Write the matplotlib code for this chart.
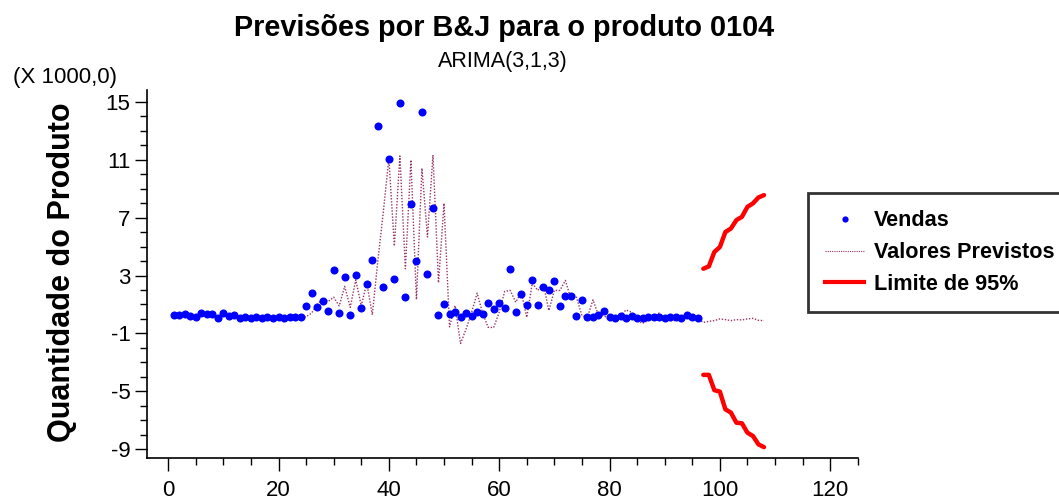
import numpy as np
import matplotlib
matplotlib.use('Agg')
import matplotlib.pyplot as plt
import matplotlib.lines as mlines
from matplotlib.ticker import MultipleLocator

plt.rcParams['font.family'] = ['Liberation Sans', 'DejaVu Sans']
plt.rcParams['axes.unicode_minus'] = False

# vendas mensais (em milhares)
vendas = [0.28, 0.28, 0.35, 0.18, 0.11, 0.42, 0.35, 0.35, 0.04, 0.42,
          0.18, 0.28, 0.04, 0.11, 0.04, 0.11, 0.04, 0.11, 0.04, 0.11,
          0.04, 0.11, 0.11, 0.11, 0.88, 1.81, 0.81, 1.27, 0.58, 3.35,
          0.42, 2.89, 0.28, 3.06, 0.74, 2.43, 4.05, 13.35, 2.20, 11.04,
          2.73, 14.90, 1.50, 7.94, 3.98, 14.28, 3.13, 7.70, 0.28, 1.04,
          0.35, 0.50, 0.11, 0.42, 0.18, 0.49, 0.35, 1.11, 0.71, 1.11,
          0.74, 3.42, 0.51, 1.74, 0.97, 2.66, 0.97, 2.20, 1.97, 2.59,
          0.88, 1.57, 1.57, 0.18, 1.34, 0.11, 0.11, 0.28, 0.58, 0.11,
          0.04, 0.18, 0.04, 0.18, 0.04, 0.04, 0.11, 0.11, 0.11, 0.04,
          0.11, 0.11, 0.04, 0.28, 0.11, 0.04]

# valores previstos pelo ARIMA(3,1,3)
previstos = [0.25, 0.25, 0.25, 0.25, 0.20, 0.20, 0.25, 0.30, 0.20, 0.25,
             0.20, 0.25, 0.15, 0.15, 0.10, 0.12, 0.10, 0.10, 0.10, 0.10,
             0.10, 0.10, 0.10, 0.10, 0.15, 0.40, 1.00, 1.40, 1.20, 1.50,
             0.90, 2.25, 0.80, 2.70, 0.90, 2.50, 0.28, 4.00, 7.40, 11.10,
             5.04, 11.27, 3.47, 10.99, 1.34, 10.42, 5.67, 11.34, 2.50, 7.99,
             -0.55, 0.92, -1.70, -0.70, 0.45, 1.78, 0.40, -0.58, -0.60, 0.46,
             1.90, 1.97, 1.15, 1.85, 0.11, 2.47, 1.97, 2.43, 0.58, 1.97,
             1.97, 2.66, 1.39, 1.50, 0.23, 0.11, 1.32, 0.23, 0.23, -0.12,
             0.00, 0.23, 0.62, 0.46, -0.12, -0.30, -0.12, 0.23, 0.40, 0.00,
             -0.12, -0.12, 0.11, 0.30, 0.16, 0.00, -0.24, -0.17, -0.12, 0.00,
             -0.05, -0.12, -0.05, -0.07, 0.00, 0.04, -0.10, -0.12]

# limites de 95% para os 12 periodos previstos
lim_sup = [3.47, 3.63, 4.63, 4.97, 6.01, 6.25, 6.83, 7.06, 7.75, 7.99, 8.40, 8.56]
lim_inf = [-3.87, -3.87, -4.93, -5.03, -6.25, -6.48, -7.18, -7.22, -7.87, -8.10, -8.68, -8.87]

t_vendas = np.arange(1, len(vendas) + 1)
t_prev = np.arange(1, len(previstos) + 1)
t_lim = np.arange(len(vendas) + 1, len(vendas) + 1 + len(lim_sup))

fig = plt.figure(figsize=(10.59, 5.0), dpi=100)
ax = fig.add_axes([0.139, 0.084, 0.671, 0.736])

cor_prev = '#993366'
ax.plot(t_prev, previstos, color=cor_prev, lw=1.0, ls=(0, (1, 1.2)), zorder=2)
ax.plot(t_vendas, vendas, 'o', color='#0000FF', ms=5.8, mew=0, zorder=3)
ax.plot(t_lim, lim_sup, color='#FF0000', lw=3.2, solid_capstyle='round', zorder=4)
ax.plot(t_lim, lim_inf, color='#FF0000', lw=3.2, solid_capstyle='round', zorder=4)

ax.set_xlim(-3.8, 125)
ax.set_ylim(-9.62, 15.83)
ax.xaxis.set_major_locator(MultipleLocator(20))
ax.xaxis.set_minor_locator(MultipleLocator(5))
ax.set_yticks([15, 11, 7, 3, -1, -5, -9])
ax.yaxis.set_minor_locator(MultipleLocator(1))

for s in ['top', 'right']:
    ax.spines[s].set_visible(False)
for s in ['left', 'bottom']:
    ax.spines[s].set_linewidth(1.2)

ax.tick_params(axis='both', which='major', direction='out', length=9, width=1.0,
               labelsize=16, pad=3)
ax.tick_params(axis='both', which='minor', direction='out', length=5, width=1.0)
ax.tick_params(axis='x', pad=7)

fig.text(62 / 1059, 1 - 272 / 500, 'Quantidade do Produto', fontsize=22,
         fontweight='bold', rotation=90, ha='center', va='center')
fig.text(65 / 1059, 1 - 78 / 500, '(X 1000,0)', fontsize=16, ha='center', va='center')

fig.text(504 / 1059, 1 - 28 / 500, 'Previsões por B&J para o produto 0104', fontsize=20.8,
         fontweight='bold', ha='center', va='center')
fig.text(503 / 1059, 1 - 62 / 500, 'ARIMA(3,1,3)', fontsize=15.5, ha='center', va='center')

# legenda (a caixa passa da borda direita, como no original)
h_vendas = mlines.Line2D([], [], ls='none', marker='o', color='#0000FF', ms=4.5, mew=0)
h_prev = mlines.Line2D([], [], color=cor_prev, lw=0.8, ls=(0, (1, 1)))
h_lim = mlines.Line2D([], [], color='#FF0000', lw=3)
leg = fig.legend([h_vendas, h_prev, h_lim], ['Vendas', 'Valores Previstos', 'Limite de 95%'],
                 loc='upper left', bbox_to_anchor=(808 / 1059, 1 - 193 / 500), frameon=True,
                 fancybox=False, edgecolor='black', fontsize=15.6, handlelength=1.8,
                 borderpad=0.8, labelspacing=0.5, handletextpad=0.45, borderaxespad=0)
leg.get_frame().set_linewidth(2.0)
for txt in leg.get_texts():
    txt.set_fontweight('bold')

fig.savefig('out.png', dpi=100, facecolor='white')
